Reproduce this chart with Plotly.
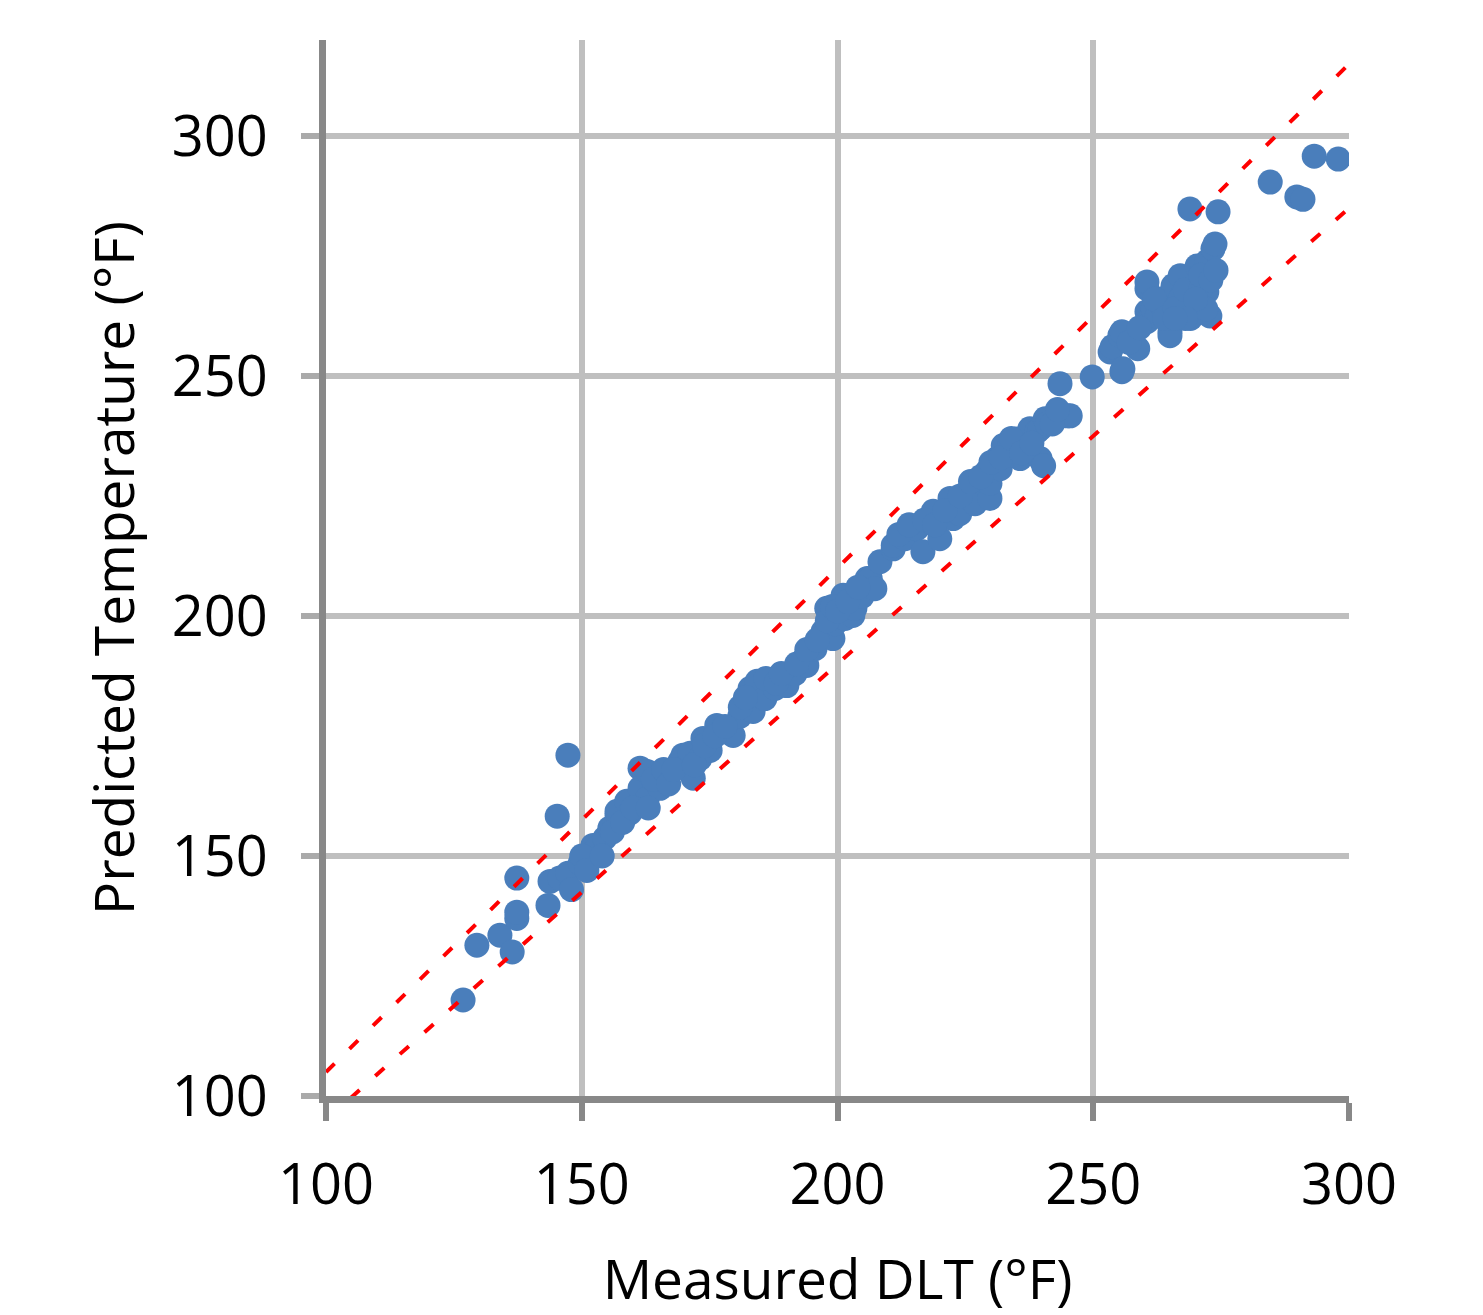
import plotly.graph_objects as go

# Measured DLT (°F) and predicted temperature (°F)
measured = [126.8, 129.5, 134.0, 136.4, 137.3, 137.3, 137.3, 143.4, 143.8, 145.2,
            147.3, 145.7, 147.3, 149.7, 152.2, 153.0, 154.5, 155.5, 156.9, 156.9,
            158.8, 159.4, 161.4, 161.4, 162.8, 162.8, 165.3, 165.3, 169.2, 169.8,
            170.6, 171.2, 171.8, 173.1, 173.7, 175.1, 176.4, 177.6, 179.0, 179.6,
            180.9, 182.9, 183.5, 184.3, 185.8, 187.8, 190.1, 191.7, 193.6, 194.0,
            195.6, 197.2, 197.6, 197.9, 199.1, 199.5, 201.1, 201.5, 203.0, 203.4,
            204.8, 205.8, 206.4, 207.3, 208.3, 210.9, 210.9, 213.2, 215.5, 216.7,
            218.7, 220.0, 222.0, 222.6, 223.9, 225.9, 226.9, 229.2, 229.2, 229.8,
            229.8, 231.2, 231.8, 232.4, 233.7, 233.7, 235.1, 235.7, 235.7, 237.6,
            239.0, 239.6, 239.6, 240.3, 240.6, 243.5, 244.9, 245.5, 249.8, 253.3,
            253.7, 255.2, 255.6, 255.6, 255.8, 258.7, 260.5, 260.5, 260.5, 260.5,
            261.7, 262.5, 263.6, 263.6, 265.0, 265.0, 265.6, 267.0, 267.0, 268.9,
            269.5, 270.3, 270.9, 272.2, 272.2, 272.8, 273.4, 273.8, 274.4, 284.6,
            289.8, 291.0, 293.2, 297.9,
            148.0, 150.0, 151.0, 154.0, 156.0, 158.0, 160.0, 163.0, 164.0, 166.0,
            167.0, 168.0, 172.0, 174.0, 176.0, 178.0, 181.0, 182.0, 186.0, 188.0,
            189.0, 192.0, 194.0, 196.0, 198.0, 199.0, 200.0, 202.0, 204.0, 212.0,
            214.0, 217.0, 219.0, 221.0, 224.0, 226.0, 228.0, 230.0, 232.0, 234.0,
            236.0, 238.0, 241.0, 242.0, 243.0, 257.0, 259.0, 262.0, 264.0, 266.0,
            268.0, 269.0, 271.0, 271.0, 273.0, 274.0, 272.0, 270.0, 268.0, 266.0]
predicted = [120.0, 131.4, 133.5, 130.0, 137.0, 138.3, 145.4, 139.7, 144.7, 158.3,
             171.0, 145.4, 146.4, 148.5, 152.2, 151.6, 153.7, 155.8, 158.5, 159.3,
             161.4, 158.9, 164.1, 168.3, 167.6, 162.0, 164.1, 166.2, 169.7, 171.0,
             168.9, 171.4, 166.2, 170.3, 174.5, 172.0, 177.2, 176.6, 176.2, 175.1,
             179.1, 184.9, 180.1, 186.4, 182.8, 184.9, 185.5, 188.0, 191.2, 189.7,
             193.2, 196.8, 196.4, 201.6, 195.3, 198.4, 204.3, 199.5, 200.1, 201.6,
             204.1, 207.8, 207.8, 205.7, 211.3, 214.0, 214.7, 216.1, 218.2, 213.4,
             221.8, 216.1, 224.5, 220.3, 221.3, 226.5, 223.4, 230.1, 227.2, 224.5,
             227.6, 232.8, 230.7, 235.5, 233.8, 235.5, 236.9, 235.9, 232.8, 239.0,
             238.4, 232.8, 239.0, 231.3, 241.1, 248.4, 241.7, 241.7, 249.8, 255.0,
             256.1, 258.4, 250.9, 259.2, 251.5, 255.7, 263.4, 268.2, 269.6, 261.3,
             264.0, 262.5, 266.1, 264.6, 259.2, 258.4, 268.8, 266.1, 270.9, 284.8,
             264.6, 272.9, 263.4, 267.5, 273.8, 262.5, 276.5, 277.5, 284.2, 290.4,
             287.3, 286.8, 295.8, 295.2,
             143.0, 150.0, 147.0, 150.0, 155.0, 157.0, 160.0, 160.0, 166.0, 168.0,
             165.0, 168.0, 169.0, 173.0, 175.0, 177.0, 181.0, 183.0, 187.0, 186.0,
             188.0, 190.0, 193.0, 195.0, 199.0, 202.0, 201.0, 203.0, 206.0, 217.0,
             219.0, 220.0, 219.0, 222.0, 225.0, 228.0, 229.0, 232.0, 233.0, 237.0,
             234.0, 236.0, 240.0, 240.0, 243.0, 257.0, 260.0, 266.0, 262.0, 264.0,
             268.0, 262.0, 268.0, 271.0, 270.0, 272.0, 264.0, 266.0, 262.0, 262.0]

# +/-5 % band lines
band_x = [100, 300]
band_upper = [105, 315]
band_lower = [95, 285]

tick_vals = [100, 150, 200, 250, 300]

FONT = "Open Sans"
fig = go.Figure()
fig.add_trace(go.Scatter(
    x=measured, y=predicted, mode="markers",
    marker=dict(size=25, color="#4A7EBB", line=dict(width=0)),
    showlegend=False, cliponaxis=True))
for yy in (band_upper, band_lower):
    fig.add_trace(go.Scatter(
        x=band_x, y=yy, mode="lines",
        line=dict(color="#FF0000", width=4, dash="12px,21px"),
        showlegend=False))

fig.update_layout(
    width=1483, height=1315,
    margin=dict(l=326, r=134, t=40, b=217),
    paper_bgcolor="white", plot_bgcolor="white",
    font=dict(family=FONT, color="#000000"),
)
fig.update_xaxes(
    range=[100, 300], tickvals=tick_vals, ticktext=[str(v) for v in tick_vals],
    showgrid=True, gridcolor="#BFBFBF", gridwidth=6,
    showline=True, linecolor="#888888", linewidth=7,
    ticks="outside", ticklen=18, tickwidth=6, tickcolor="#888888",
    tickfont=dict(size=56, family=FONT), zeroline=False, ticklabelstandoff=16,
    title=dict(text="Measured DLT (°F)", font=dict(size=55, family=FONT), standoff=44),
)
fig.update_yaxes(
    range=[100, 320], tickvals=tick_vals, ticktext=[str(v) for v in tick_vals],
    showgrid=True, gridcolor="#BFBFBF", gridwidth=6,
    showline=True, linecolor="#888888", linewidth=7,
    ticks="outside", ticklen=18, tickwidth=6, tickcolor="#AAAAAA",
    tickfont=dict(size=56, family=FONT), zeroline=False, ticklabelstandoff=22,
    title=dict(text="Predicted Temperature (°F)", font=dict(size=55, family=FONT), standoff=22),
)

fig.write_html("out.html")
